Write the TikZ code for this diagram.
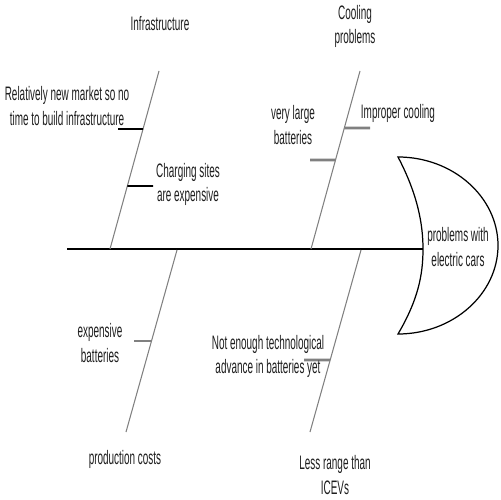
\documentclass[tikz,border=0pt]{standalone}
\usepackage{fontspec}
\usepackage{tikz}
\usetikzlibrary{calc}
\newfontfamily\fishfont[FakeStretch=0.51]{Liberation Sans}
\definecolor{fishBone}{HTML}{808080}
\definecolor{fishText}{HTML}{1E1E1E}

\begin{document}
\begin{tikzpicture}[
    x=0.02cm, y=-0.02cm,
    font=\fishfont\fontsize{11.1}{13.7}\selectfont,
    spine/.style={draw=black, line width=1.2pt},
    bone/.style={draw=fishBone, line width=0.6pt},
    subbone/.style={draw=black, line width=1pt},
    subgray/.style={draw=fishBone, line width=1.6pt},
    cause/.style={align=center, text=fishText, inner sep=0pt},
    headshape/.style={draw=black, fill=white, line width=0.7pt}
  ]
    \useasboundingbox (0,0) rectangle (500,500);

    % head of the fish
    \coordinate (headtop) at (398,157);
    \coordinate (headtip) at (423,249);
    \coordinate (headbot) at (398,334);
    \draw[headshape] (headtop) .. controls (418,195) and (423,225) .. (headtip)
      .. controls (423,275) and (418,300) .. (headbot)
      .. controls (453,334) and (498,294) .. (498,245.5)
      .. controls (498,197) and (453,157) .. (headtop) -- cycle;
    \node[cause] (head) at (458,247) {problems with\\electric cars};

    % spine
    \coordinate (tail) at (67,249);
    \draw[spine] (tail) -- (headtip);

    % main bones
    \coordinate (b1top) at (159,71);  \coordinate (b1bot) at (110,249);
    \coordinate (b2top) at (360,71);  \coordinate (b2bot) at (311,249);
    \coordinate (b3top) at (177,250); \coordinate (b3bot) at (126,432);
    \coordinate (b4top) at (361,250); \coordinate (b4bot) at (310,432);
    \draw[bone] (b1top) -- (b1bot);
    \draw[bone] (b2top) -- (b2bot);
    \draw[bone] (b3top) -- (b3bot);
    \draw[bone] (b4top) -- (b4bot);

    \node[cause] (infra) at (160,24) {Infrastructure};
    \node[cause] (cool) at (355,26) {Cooling\\problems};
    \node[cause] (prod) at (125,459) {production costs};
    \node[cause] (range) at (335,475) {Less range than\\ICEVs};

    % sub causes
    \coordinate (s1) at ($(b1top)!0.326!(b1bot)$); \coordinate (s1end) at (118,129);
    \coordinate (s2) at ($(b1top)!0.646!(b1bot)$); \coordinate (s2end) at (153,186);
    \coordinate (s3) at ($(b2top)!0.32!(b2bot)$);  \coordinate (s3end) at (370,128);
    \coordinate (s4) at ($(b2top)!0.5!(b2bot)$);   \coordinate (s4end) at (310,160);
    \coordinate (s5) at ($(b3top)!0.5!(b3bot)$);   \coordinate (s5end) at (134,341);
    \coordinate (s6) at ($(b4top)!0.604!(b4bot)$); \coordinate (s6end) at (304,360);
    \draw[subbone] (s1) -- (s1end);
    \draw[subbone] (s2) -- (s2end);
    \draw[subgray] (s3) -- (s3end);
    \draw[subgray] (s4) -- (s4end);
    \draw[subgray] (s5) -- (s5end);
    \draw[subgray] (s6) -- (s6end);

    \node[cause] (newmarket) at (67,106) {Relatively new market so no\\time to build infrastructure};
    \node[cause] (charging) at (188,184) {Charging sites\\are expensive};
    \node[cause] (improper) at (398,113) {Improper cooling};
    \node[cause] (large) at (293,125) {very large\\batteries};
    \node[cause] (expbat) at (100,343) {expensive\\batteries};
    \node[cause] (techadv) at (268,356) {Not enough technological\\advance in batteries yet};
  \end{tikzpicture}
\end{document}
